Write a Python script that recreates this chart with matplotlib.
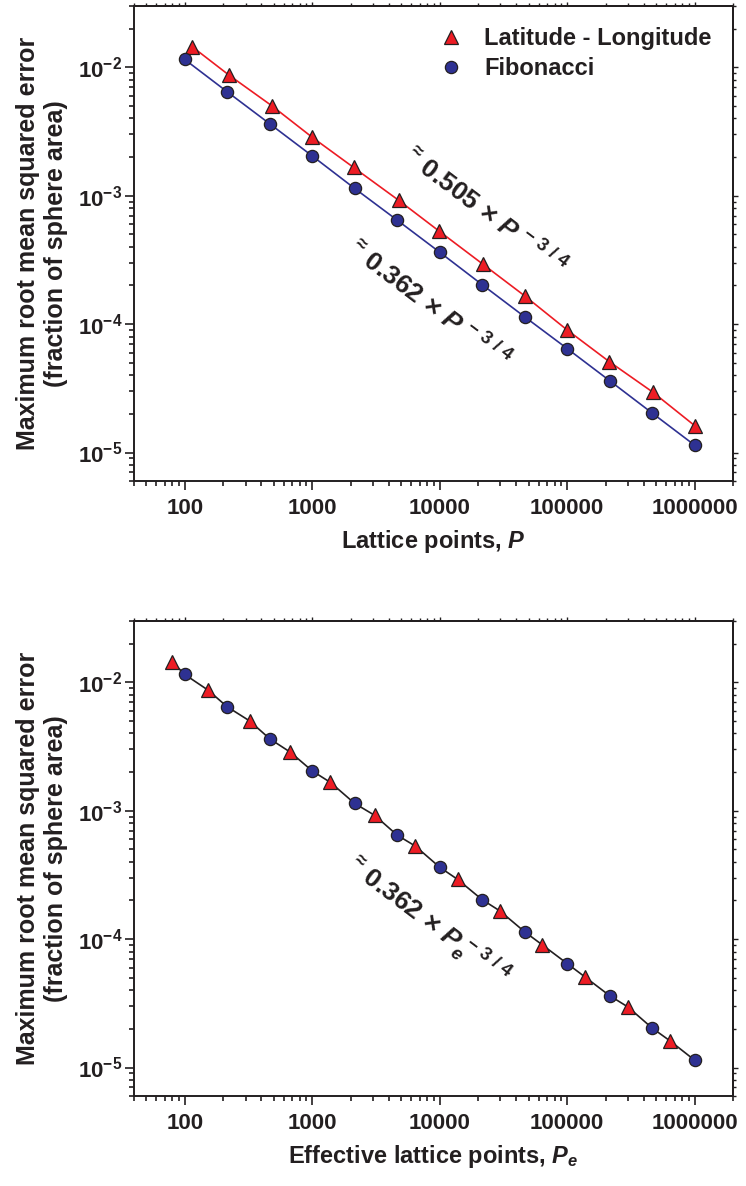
import numpy as np
import matplotlib
matplotlib.use('Agg')
import matplotlib.pyplot as plt
from matplotlib.ticker import LogLocator, FixedLocator, FixedFormatter, NullFormatter
from matplotlib.lines import Line2D

# ---------------- data ----------------
fib_P = [100, 215, 464, 1000, 2150, 4640, 10000, 21500, 46400, 100000, 215000, 464000, 1000000]
fib_err = [1.15e-2, 6.45e-3, 3.63e-3, 2.04e-3, 1.14e-3, 6.45e-4, 3.63e-4, 2.03e-4, 1.14e-4,
           6.45e-5, 3.63e-5, 2.03e-5, 1.14e-5]

latlon_P = [115, 222, 484, 1000, 2110, 4770, 9890, 21900, 46400, 100000, 214000, 468000, 1000000]
latlon_err = [1.44e-2, 8.7e-3, 5.0e-3, 2.85e-3, 1.66e-3, 9.2e-4, 5.3e-4, 2.92e-4, 1.66e-4,
              9.0e-5, 5.1e-5, 2.96e-5, 1.62e-5]
latlon_Pe = [80, 152, 323, 675, 1390, 3090, 6440, 13800, 29600, 64000, 137000, 300000, 637000]

xtick_vals = [100, 1000, 10000, 100000, 1000000]
xtick_labels = ['100', '1000', '10000', '100000', '1000000']
ytick_vals = [1e-2, 1e-3, 1e-4, 1e-5]
ytick_labels = [r'$\mathbf{10}^{\mathrm{-2}}$', r'$\mathbf{10}^{\mathrm{-3}}$',
                r'$\mathbf{10}^{\mathrm{-4}}$', r'$\mathbf{10}^{\mathrm{-5}}$']

# ---------------- style ----------------
plt.rcParams['font.family'] = ['Liberation Sans', 'DejaVu Sans']
plt.rcParams['font.weight'] = 'bold'
plt.rcParams['mathtext.fontset'] = 'custom'
plt.rcParams['mathtext.rm'] = 'Liberation Sans'
plt.rcParams['mathtext.bf'] = 'Liberation Sans:bold'
plt.rcParams['mathtext.it'] = 'Liberation Sans:bold:italic'
plt.rcParams['mathtext.sf'] = 'Liberation Sans'

TXT = '#231f20'
RED = '#ed1c24'
BLUE = '#2e3192'

fig = plt.figure(figsize=(7.46, 11.86), dpi=100)
W, H = 746, 1186
ax1 = fig.add_axes([134 / W, 1 - 481 / H, 599 / W, 475 / H])
ax2 = fig.add_axes([134 / W, 1 - 1096 / H, 599 / W, 475 / H])


def minor_loc():
    return LogLocator(base=10, subs=np.arange(2, 10), numticks=20)


def style_axes(ax, xlabel):
    ax.set_xscale('log')
    ax.set_yscale('log')
    ax.set_xlim(40, 2e6)
    ax.set_ylim(6e-6, 3e-2)
    for s in ax.spines.values():
        s.set_linewidth(1.4)
        s.set_color(TXT)
    ax.xaxis.set_major_locator(FixedLocator(xtick_vals))
    ax.xaxis.set_major_formatter(FixedFormatter(xtick_labels))
    ax.xaxis.set_minor_locator(minor_loc())
    ax.xaxis.set_minor_formatter(NullFormatter())
    ax.yaxis.set_major_locator(FixedLocator(ytick_vals))
    ax.yaxis.set_major_formatter(FixedFormatter(ytick_labels))
    ax.yaxis.set_minor_locator(minor_loc())
    ax.yaxis.set_minor_formatter(NullFormatter())
    ax.tick_params(which='both', direction='out', top=False, right=False, color=TXT,
                   labelcolor=TXT, width=1.2)
    ax.tick_params(which='major', length=6.5, labelsize=16)
    ax.tick_params(which='minor', length=3.5)
    ax.tick_params(axis='x', which='major', pad=6)
    ax.tick_params(axis='y', which='major', pad=2)
    ax.set_ylabel('Maximum root mean squared error\n(fraction of sphere area)',
                  fontsize=18, fontweight='bold', color=TXT, linespacing=1.2)
    ax.yaxis.set_label_coords(-0.110, 0.5)
    ax.set_xlabel(xlabel, fontsize=17, fontweight='bold', color=TXT)
    ax.xaxis.set_label_coords(0.5, -0.098)

    # short mirrored ticks on top and right
    sx = ax.secondary_xaxis('top')
    sx.xaxis.set_major_locator(FixedLocator(xtick_vals))
    sx.xaxis.set_minor_locator(minor_loc())
    sx.xaxis.set_minor_formatter(NullFormatter())
    sx.tick_params(which='both', direction='out', labeltop=False, color=TXT, width=1.0)
    sx.tick_params(which='major', length=3)
    sx.tick_params(which='minor', length=2)
    sy = ax.secondary_yaxis('right')
    sy.yaxis.set_major_locator(FixedLocator(ytick_vals))
    sy.yaxis.set_minor_locator(minor_loc())
    sy.yaxis.set_minor_formatter(NullFormatter())
    sy.tick_params(which='both', direction='out', labelright=False, color=TXT, width=1.0)
    sy.tick_params(which='major', length=3.5)
    sy.tick_params(which='minor', length=2.5)
    for sec in (sx, sy):
        for s in sec.spines.values():
            s.set_linewidth(1.4)
            s.set_color(TXT)


mk = dict(markeredgecolor=TXT, markeredgewidth=0.9)

# ---------- top panel ----------
ax1.plot(latlon_P, latlon_err, '-', color=RED, lw=1.2, zorder=2)
ax1.plot(fib_P, fib_err, '-', color=BLUE, lw=1.2, zorder=2)
ax1.plot(latlon_P, latlon_err, '^', color=RED, markersize=10.5, zorder=3, **mk)
ax1.plot(fib_P, fib_err, 'o', color=BLUE, markersize=8.8, zorder=3, **mk)
style_axes(ax1, r'Lattice points, $\mathit{P}$')

handles = [Line2D([], [], marker='^', ls='none', color=RED, markersize=10.5, **mk),
           Line2D([], [], marker='o', ls='none', color=BLUE, markersize=8.8, **mk)]
leg = ax1.legend(handles, ['Latitude - Longitude', 'Fibonacci'], loc='upper left',
                 bbox_to_anchor=(0.49, 0.98), frameon=False, fontsize=17,
                 handlelength=1.0, handletextpad=0.9, labelspacing=0.3, borderpad=0)
for t in leg.get_texts():
    t.set_color(TXT)
    t.set_fontweight('bold')

ann = r'$^{\approx}\,\mathit{%s}\ \mathrm{\times}\ \mathit{P}%s^{\ \mathrm{-\ 3\ /\ 4}}$'
ax1.text(0.585, 0.568, ann % ('0.505', ''),
         transform=ax1.transAxes, rotation=-37, rotation_mode='anchor',
         ha='center', va='center', fontsize=19, color=TXT)
ax1.text(0.492, 0.372, ann % ('0.362', ''),
         transform=ax1.transAxes, rotation=-37, rotation_mode='anchor',
         ha='center', va='center', fontsize=19, color=TXT)

# ---------- bottom panel ----------
all_x = np.concatenate([latlon_Pe, fib_P])
all_y = np.concatenate([latlon_err, fib_err])
order = np.argsort(all_x)
ax2.plot(all_x[order], all_y[order], '-', color=TXT, lw=1.2, zorder=2)
ax2.plot(latlon_Pe, latlon_err, '^', color=RED, markersize=10.5, zorder=3, **mk)
ax2.plot(fib_P, fib_err, 'o', color=BLUE, markersize=8.8, zorder=3, **mk)
style_axes(ax2, r'Effective lattice points, $\mathit{P}_{\mathit{e}}$')

ax2.text(0.49, 0.368, ann % ('0.362', r'_{\mathit{e}}'),
         transform=ax2.transAxes, rotation=-37, rotation_mode='anchor',
         ha='center', va='center', fontsize=19, color=TXT)

fig.savefig('out.png', dpi=100)
